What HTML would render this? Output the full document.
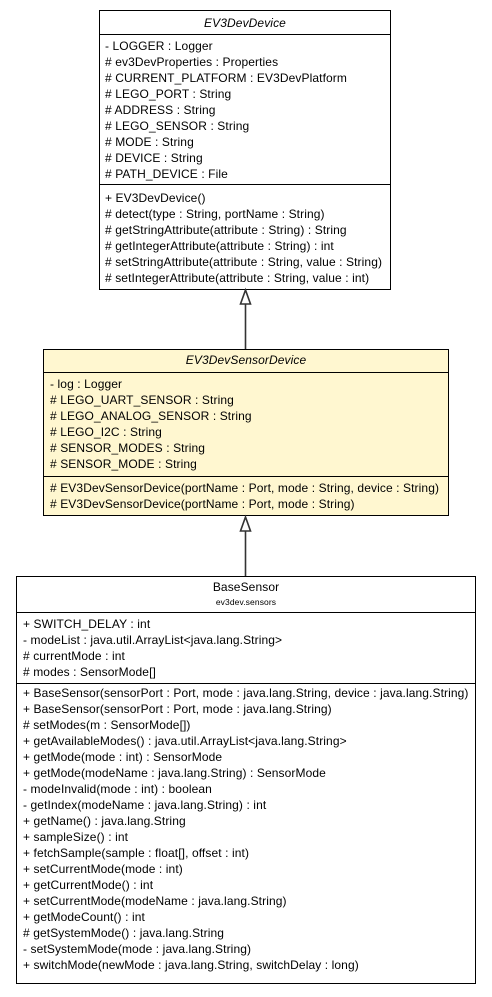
<!DOCTYPE html>
<html><head><meta charset="utf-8"><style>
body{margin:0;background:#fff;width:492px;height:992px;overflow:hidden}
svg text{font-family:"Liberation Sans",sans-serif;font-size:12px;letter-spacing:0.1px;fill:#000}
</style></head><body>
<svg width="492" height="992" xmlns="http://www.w3.org/2000/svg">
<g stroke="#000" stroke-width="1" fill="none">
<rect x="99.5" y="10.5" width="291" height="279" fill="#fff"/>
<line x1="99.5" y1="34.5" x2="390.5" y2="34.5"/>
<line x1="99.5" y1="184.5" x2="390.5" y2="184.5"/>
<rect x="43.5" y="349.5" width="405" height="166" fill="#fff7d0"/>
<line x1="43.5" y1="372.5" x2="448.5" y2="372.5"/>
<line x1="43.5" y1="476.5" x2="448.5" y2="476.5"/>
<rect x="16.5" y="576.5" width="459" height="407" fill="#fff"/>
<line x1="16.5" y1="612.5" x2="475.5" y2="612.5"/>
<line x1="16.5" y1="683.5" x2="475.5" y2="683.5"/>
</g>
<g stroke="#333" stroke-width="1.6" fill="#fff">
<line x1="245.5" y1="304" x2="245.5" y2="349"/>
<polygon points="245.5,290 240.5,304 250.5,304"/>
<line x1="245.5" y1="531" x2="245.5" y2="576"/>
<polygon points="245.5,517 240.5,531 250.5,531"/>
</g>
<g dominant-baseline="central">
<text x="245" y="23" text-anchor="middle" font-style="italic">EV3DevDevice</text>
<text x="105" y="46">- LOGGER : Logger</text>
<text x="105" y="62"># ev3DevProperties : Properties</text>
<text x="105" y="78"># CURRENT_PLATFORM : EV3DevPlatform</text>
<text x="105" y="94"># LEGO_PORT : String</text>
<text x="105" y="110"># ADDRESS : String</text>
<text x="105" y="126"># LEGO_SENSOR : String</text>
<text x="105" y="142"># MODE : String</text>
<text x="105" y="158"># DEVICE : String</text>
<text x="105" y="174"># PATH_DEVICE : File</text>
<text x="105" y="198">+ EV3DevDevice()</text>
<text x="105" y="214"># detect(type : String, portName : String)</text>
<text x="105" y="230"># getStringAttribute(attribute : String) : String</text>
<text x="105" y="246"># getIntegerAttribute(attribute : String) : int</text>
<text x="105" y="262"># setStringAttribute(attribute : String, value : String)</text>
<text x="105" y="278"># setIntegerAttribute(attribute : String, value : int)</text>

<text x="246" y="360" text-anchor="middle" font-style="italic">EV3DevSensorDevice</text>
<text x="50" y="384">- log : Logger</text>
<text x="50" y="400"># LEGO_UART_SENSOR : String</text>
<text x="50" y="416"># LEGO_ANALOG_SENSOR : String</text>
<text x="50" y="432"># LEGO_I2C : String</text>
<text x="50" y="448"># SENSOR_MODES : String</text>
<text x="50" y="464"># SENSOR_MODE : String</text>
<text x="50" y="488"># EV3DevSensorDevice(portName : Port, mode : String, device : String)</text>
<text x="50" y="504"># EV3DevSensorDevice(portName : Port, mode : String)</text>

<text x="246" y="587" text-anchor="middle">BaseSensor</text>
<text x="246" y="602" text-anchor="middle" style="font-size:8.5px">ev3dev.sensors</text>
<text x="23" y="624">+ SWITCH_DELAY : int</text>
<text x="23" y="640">- modeList : java.util.ArrayList&lt;java.lang.String&gt;</text>
<text x="23" y="656"># currentMode : int</text>
<text x="23" y="672"># modes : SensorMode[]</text>
<text x="23" y="693">+ BaseSensor(sensorPort : Port, mode : java.lang.String, device : java.lang.String)</text>
<text x="23" y="709">+ BaseSensor(sensorPort : Port, mode : java.lang.String)</text>
<text x="23" y="725"># setModes(m : SensorMode[])</text>
<text x="23" y="741">+ getAvailableModes() : java.util.ArrayList&lt;java.lang.String&gt;</text>
<text x="23" y="757">+ getMode(mode : int) : SensorMode</text>
<text x="23" y="773">+ getMode(modeName : java.lang.String) : SensorMode</text>
<text x="23" y="789">- modeInvalid(mode : int) : boolean</text>
<text x="23" y="805">- getIndex(modeName : java.lang.String) : int</text>
<text x="23" y="821">+ getName() : java.lang.String</text>
<text x="23" y="837">+ sampleSize() : int</text>
<text x="23" y="853">+ fetchSample(sample : float[], offset : int)</text>
<text x="23" y="869">+ setCurrentMode(mode : int)</text>
<text x="23" y="885">+ getCurrentMode() : int</text>
<text x="23" y="901">+ setCurrentMode(modeName : java.lang.String)</text>
<text x="23" y="917">+ getModeCount() : int</text>
<text x="23" y="933"># getSystemMode() : java.lang.String</text>
<text x="23" y="949">- setSystemMode(mode : java.lang.String)</text>
<text x="23" y="965">+ switchMode(newMode : java.lang.String, switchDelay : long)</text>
</g>
</svg>
</body></html>
